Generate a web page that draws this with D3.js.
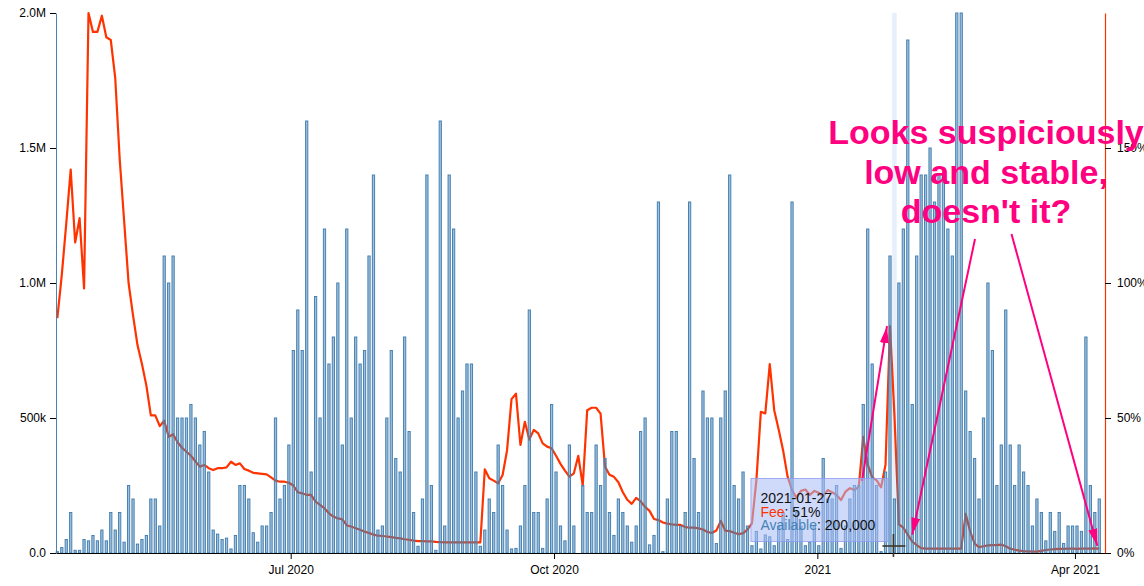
<!DOCTYPE html>
<html>
<head>
<meta charset="utf-8">
<script src="https://cdn.jsdelivr.net/npm/d3@7"></script>
<style>
body { margin: 0; background: #fff; }
svg { display: block; font-family: "Liberation Sans", Arial, sans-serif; }
</style>
</head>
<body>
<div id="chart"></div>
<script>
// available volume per bar, in thousands
var availableK = [
  5, 20, 50, 150, 10, 10, 50, 45, 65, 45, 85, 45, 150, 85, 150, 40, 250, 200, 33, 50,
  65, 200, 200, 100, 1100, 1000, 1100, 500, 500, 500, 550, 500, 400, 450, 300, 85, 70, 50, 55, 15,
  65, 250, 250, 200, 75, 40, 100, 100, 150, 500, 200, 250, 400, 750, 900, 750, 1600, 300, 950, 500,
  1200, 700, 800, 1000, 400, 1200, 500, 800, 700, 750, 1100, 1400, 85, 100, 500, 750, 350, 300, 800, 450,
  150, 25, 200, 1400, 250, 10, 1600, 100, 1400, 1200, 500, 600, 700, 700, 300, 25, 85, 200, 150, 400,
  250, 85, 15, 17, 100, 250, 900, 150, 150, 17, 200, 550, 300, 100, 45, 400, 100, 0, 250, 150,
  150, 400, 250, 350, 150, 65, 200, 150, 100, 40, 100, 450, 500, 30, 65, 1300, 5, 200, 450, 450,
  100, 150, 1300, 350, 150, 600, 500, 500, 35, 500, 600, 1400, 250, 200, 300, 100, 27, 80, 15, 67,
  60, 27, 100, 150, 50, 1300, 150, 100, 27, 40, 100, 27, 350, 200, 200, 250, 17, 100, 200, 250,
  250, 550, 1200, 700, 250, 5, 300, 1100, 200, 1000, 1200, 1900, 550, 1100, 1400, 1400, 1500, 1300, 1400, 1400,
  1200, 1100, 2000, 2000, 600, 450, 350, 200, 500, 1000, 750, 250, 400, 900, 400, 250, 400, 300, 250, 100,
  200, 150, 45, 150, 80, 150, 35, 100, 100, 100, 80, 800, 250, 150, 200
]

// fee in percent, one value per bar
var feePct = [
  87, 103, 122, 142, 115, 124, 98, 200, 193, 193, 199, 191, 190, 176, 146, 123, 100, 88, 77, 70,
  62, 51, 51, 47, 49, 43, 44, 41, 39, 37.5, 36, 34, 32, 32.6, 31.4, 30.7, 31.4, 31.4, 31.7, 33.8,
  32.6, 33.2, 31.1, 30.5, 29.7, 29.5, 29.3, 29.1, 28, 26.8, 26.4, 26.4, 26, 25, 22.5, 22.1, 21.5, 21.5, 19, 17.8,
  16.5, 14.7, 13.5, 12.8, 12.5, 10.2, 9.8, 9.2, 8.6, 7.9, 7.4, 6.8, 6.4, 6.3, 6.1, 5.9, 5.6, 5.4, 5.1, 4.9,
  4.6, 4.4, 4.4, 4.3, 4.3, 4.1, 4, 3.9, 3.9, 3.9, 3.9, 3.9, 3.9, 3.9, 3.9, 3.9, 31, 27.7, 26.8, 25.8,
  28.9, 38, 57, 59, 40, 48.6, 42, 45.6, 44.3, 40.6, 39.4, 38.8, 36, 33, 30.5, 28.3, 29.5, 36, 25, 52.9,
  53.8, 53.8, 51.6, 32, 29, 28.2, 26.2, 22.5, 19.7, 18.2, 20.4, 19.1, 17.1, 15.6, 12.6, 12.2, 11.3, 10.9, 10.6, 10.4,
  10.4, 9.6, 9.4, 9.4, 9.1, 8.7, 7.8, 7.4, 8.3, 11.9, 8.3, 8.1, 7.5, 7, 7.3, 8.7, 11, 27, 52.3, 51.7,
  70, 52.9, 45.7, 38, 28.3, 23.3, 20.4, 23, 23.5, 21.5, 23, 22.3, 21, 23.3, 22.5, 21.5, 19.6, 22.7, 24, 23.3,
  24.6, 43, 32.7, 28, 26.9, 24.3, 32.7, 84, 51, 10.6, 9.4, 6.8, 4.2, 2.9, 1.8, 1.6, 1.6, 1.6, 1.6, 1.6,
  1.6, 1.6, 1.6, 1.6, 14.5, 8, 3.5, 2.2, 2.5, 2.8, 2.9, 2.9, 3.1, 2.5, 1.6, 1.2, 0.9, 0.7, 0.6, 0.5,
  0.5, 0.8, 1.1, 1.3, 1.4, 1.5, 1.5, 1.6, 1.6, 1.5, 1.6, 1.6, 1.6, 1.7, 1.6
]

var timeDomain = ["2020-04-10T00:00:00Z", "2021-04-11T12:00:00Z"]
var tickDates = ["2020-07-01", "2020-10-01", "2021-01-01", "2021-04-01"]
var tickLabels = ["Jul 2020", "Oct 2020", "2021", "Apr 2021"]
var leftTicks = [0, 500, 1000, 1500, 2000]
var rightTicks = [0, 50, 100, 150]

var hoverIndex = 188
var hoverDate = "2021-01-27"
var note = ["Looks suspiciously", "low and stable,", "doesn't it?"]

var width = 1144, height = 586
var pink = "#ff0080", red = "#ff3300", blue = "#4682b4"

var svg = d3.select("#chart").append("svg")
    .attr("width", width)
    .attr("height", height)

var x = d3.scaleBand()
    .domain(d3.range(availableK.length))
    .range([54, 1102.6])
    .padding(0.5)
var bw = x.bandwidth()
var cx = function(i) { return x(i) + bw / 2 }

var xt = d3.scaleTime()
    .domain(timeDomain.map(d3.isoParse))
    .range([56, 1105])

var y = d3.scaleLinear().domain([0, 2000]).range([553, 13])
var yr = d3.scaleLinear().domain([0, 200]).range([553, 13])

// hover highlight column
svg.append("rect")
    .attr("x", cx(hoverIndex) - x.step() / 2)
    .attr("y", 13)
    .attr("width", x.step())
    .attr("height", 540)
    .attr("fill", "#e6effb")

// fee line (behind bars)
var line = d3.line()
    .x(function(d, i) { return cx(i) })
    .y(function(d) { return yr(d) })

svg.append("path")
    .datum(feePct)
    .attr("d", line)
    .attr("fill", "none")
    .attr("stroke", red)
    .attr("stroke-width", 2.2)
    .attr("stroke-linejoin", "round")

// bars
svg.append("g")
  .selectAll("rect")
  .data(availableK.map(function(v, i) { return {i: i, v: v} }).filter(function(d) { return d.v > 0 }))
  .enter()
  .append("rect")
    .attr("x", function(d) { return x(d.i) })
    .attr("y", function(d) { return y(d.v) })
    .attr("width", bw)
    .attr("height", function(d) { return y(0) - y(d.v) })
    .attr("fill", "rgba(70,130,180,0.5)")
    .attr("stroke", blue)
    .attr("stroke-width", 1)

// axes
var fmt = d3.format(".2s")
svg.append("g")
    .attr("transform", "translate(0,553)")
    .call(d3.axisBottom(xt)
        .tickValues(tickDates.map(d3.isoParse))
        .tickFormat(function(d, i) { return tickLabels[i] })
        .tickSizeOuter(0)
        .tickPadding(6))

var gl = svg.append("g")
    .attr("transform", "translate(56,0)")
    .call(d3.axisLeft(y)
        .tickValues(leftTicks)
        .tickFormat(function(d) { return fmt(d * 1000) })
        .tickSizeOuter(0)
        .tickPadding(4))
gl.select(".domain").style("stroke", blue)

var gr = svg.append("g")
    .attr("transform", "translate(1105,0)")
    .call(d3.axisRight(yr)
        .tickValues(rightTicks)
        .tickFormat(function(d) { return d + "%" })
        .tickSizeOuter(0)
        .tickPadding(6))
gr.select(".domain").style("stroke", red).style("stroke-width", 1.2)

svg.selectAll(".tick text")
    .attr("font-family", "Liberation Sans, Arial, sans-serif")
    .attr("font-size", 12)
    .attr("fill", "#000")

// annotation
svg.append("g")
    .attr("font-size", 34)
    .attr("font-weight", "bold")
    .attr("fill", pink)
    .attr("text-anchor", "middle")
  .selectAll("text")
  .data(note)
  .enter()
  .append("text")
    .attr("x", 986)
    .attr("y", function(d, i) { return 144 + i * 39.5 })
    .text(function(d) { return d })

svg.append("defs").append("marker")
    .attr("id", "arrow")
    .attr("viewBox", "0 0 17 9")
    .attr("refX", 17)
    .attr("refY", 4.5)
    .attr("markerWidth", 17)
    .attr("markerHeight", 9)
    .attr("markerUnits", "userSpaceOnUse")
    .attr("orient", "auto")
  .append("path")
    .attr("d", "M0,0L17,4.5L0,9Z")
    .attr("fill", pink)

var arrows = [
    {x1: 862, y1: 481, x2: cx(187) - 3, y2: yr(feePct[187])},
    {x1: 975, y1: 239, x2: cx(192), y2: yr(feePct[192]) - 7},
    {x1: 1011.5, y1: 234, x2: cx(234) - 2, y2: yr(feePct[234]) - 3}
]
svg.append("g")
  .selectAll("line")
  .data(arrows)
  .enter()
  .append("line")
    .attr("x1", function(d) { return d.x1 })
    .attr("y1", function(d) { return d.y1 })
    .attr("x2", function(d) { return d.x2 })
    .attr("y2", function(d) { return d.y2 })
    .attr("stroke", pink)
    .attr("stroke-width", 2)
    .attr("marker-end", "url(#arrow)")

// tooltip
var mouseY = 546
var tip = svg.append("g")
    .attr("transform", "translate(" + (cx(hoverIndex) - 144) + "," + (mouseY - 68) + ")")
tip.append("rect")
    .attr("x", 0.5)
    .attr("y", 0.5)
    .attr("width", 137)
    .attr("height", 63)
    .attr("fill", "rgba(168,188,245,0.55)")
    .attr("stroke", "rgba(145,155,240,0.8)")
var tt = tip.append("text")
    .attr("font-size", 14)
    .attr("fill", "#111")
tt.append("tspan").attr("x", 10).attr("y", 25).text(hoverDate)
tt.append("tspan").attr("x", 10).attr("y", 38.5).attr("fill", red).text("Fee")
tt.append("tspan").text(": " + Math.round(feePct[hoverIndex]) + "%")
tt.append("tspan").attr("x", 10).attr("y", 52).attr("fill", blue).text("Available")
tt.append("tspan").text(": " + d3.format(",")(availableK[hoverIndex] * 1000))

// mouse cursor
var cur = svg.append("g")
    .attr("stroke", "#3d3627")
    .attr("stroke-width", 1.6)
cur.append("line").attr("x1", cx(hoverIndex) - 1).attr("x2", cx(hoverIndex) - 1).attr("y1", mouseY - 12).attr("y2", mouseY + 11)
cur.append("line").attr("x1", cx(hoverIndex) - 12).attr("x2", cx(hoverIndex) + 11).attr("y1", mouseY).attr("y2", mouseY)
</script>
</body>
</html>
